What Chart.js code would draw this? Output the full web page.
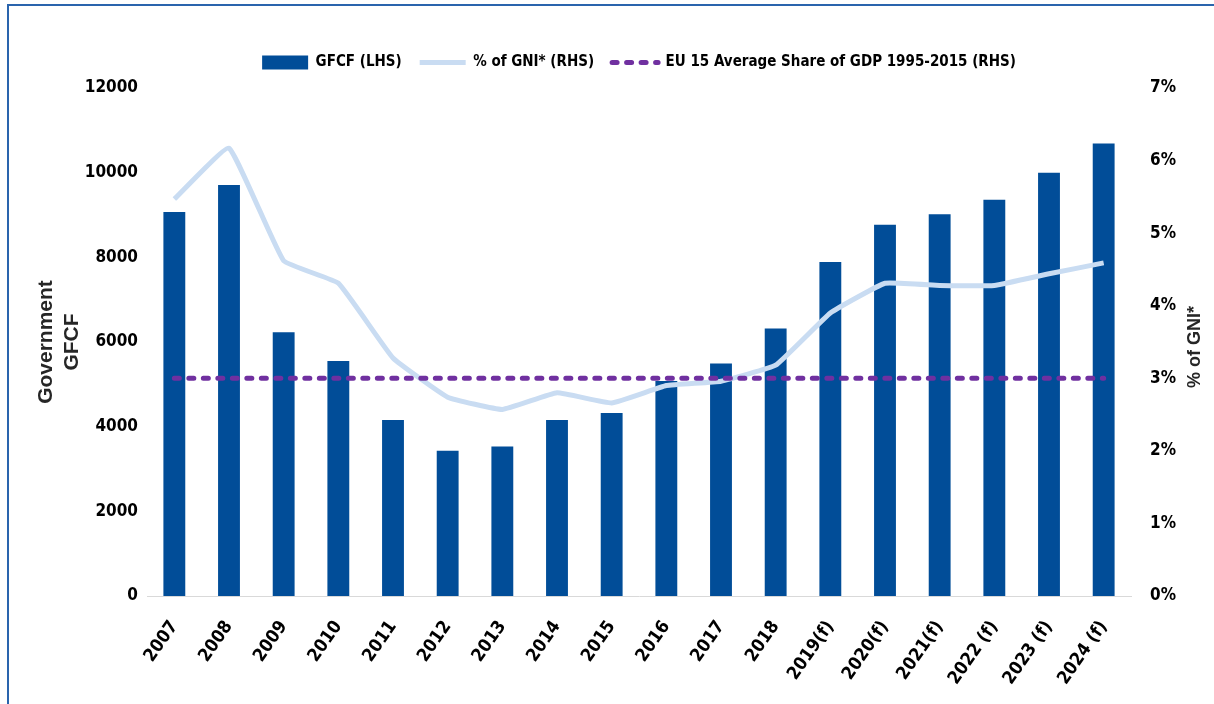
<!DOCTYPE html>
<html>
<head>
<meta charset="utf-8">
<script src="https://cdn.jsdelivr.net/npm/chart.js@4/dist/chart.umd.min.js"></script>
<style>
html, body { margin: 0; padding: 0; background: #fff; }
#wrap { position: relative; width: 1214px; height: 704px; overflow: hidden; }
#frame { position: absolute; left: 7px; top: 4px; width: 1300px; height: 800px;
         border-top: 2px solid #2a64ad; border-left: 2px solid #2a64ad; }
canvas { position: absolute; left: 0; top: 0; }
</style>
</head>
<body>
<div id="wrap">
  <div id="frame"></div>
  <canvas id="chart" width="1214" height="704"></canvas>
</div>
<script>
// Дані графіка
const years = ['2007', '2008', '2009', '2010', '2011', '2012', '2013', '2014', '2015',
               '2016', '2017', '2018', '2019(f)', '2020(f)', '2021(f)', '2022 (f)', '2023 (f)', '2024 (f)'];
const gfcf = [9070, 9710, 6230, 5550, 4160, 3430, 3530, 4160, 4320,
              5080, 5490, 6320, 7890, 8770, 9020, 9360, 10000, 10690];
const gniShare = [5.47, 6.17, 4.62, 4.31, 3.28, 2.74, 2.57, 2.80, 2.66,
                  2.90, 2.96, 3.18, 3.90, 4.31, 4.28, 4.28, 4.44, 4.59];
const eu15Avg = [3, 3, 3, 3, 3, 3, 3, 3, 3, 3, 3, 3, 3, 3, 3, 3, 3, 3];
const leftTicks = [0, 2000, 4000, 6000, 8000, 10000, 12000];
const rightTicks = [0, 1, 2, 3, 4, 5, 6, 7];

const BAR_COLOR = '#014d98';
const LINE_COLOR = '#c9dcf2';
const DASH_COLOR = '#7030a0';
const FONT = "'Liberation Sans Narrow', 'DejaVu Sans Condensed', 'Liberation Sans', sans-serif";

// Підписи осей (праву підпис треба читати знизу вгору)
const axisTitles = {
    id: 'axisTitles',
    afterDraw(chart) {
        const ctx = chart.ctx;
        const area = chart.chartArea;
        const midY = (area.top + area.bottom) / 2;
        ctx.save();
        ctx.fillStyle = '#262626';
        ctx.textAlign = 'center';
        ctx.textBaseline = 'middle';
        ctx.font = "bold 21px 'Liberation Sans', Arial, sans-serif";
        ctx.translate(46, midY);
        ctx.rotate(-Math.PI / 2);
        ctx.fillText('Government', 0, 0);
        ctx.fillText('GFCF', 0, 26);
        ctx.restore();

        ctx.save();
        ctx.fillStyle = '#262626';
        ctx.textAlign = 'center';
        ctx.textBaseline = 'middle';
        ctx.font = "bold 18px 'Liberation Sans', Arial, sans-serif";
        ctx.translate(1195, 347);
        ctx.rotate(-Math.PI / 2);
        ctx.fillText('% of GNI*', 0, 0);
        ctx.restore();
    }
};

// Фіксована висота легенди, щоб область графіка починалась з y=88
const legendHeight = {
    id: 'legendHeight',
    beforeLayout(chart) {
        const legend = chart.legend;
        if (legend && !legend._patched) {
            const origFit = legend.fit;
            legend.fit = function () {
                origFit.call(this);
                this.height = 51;
            };
            legend._patched = true;
        }
    }
};

const ctx = document.getElementById('chart').getContext('2d');

const chart = new Chart(ctx, {
    type: 'bar',
    data: {
        labels: years,
        datasets: [
            {
                type: 'bar',
                label: 'GFCF (LHS)',
                data: gfcf,
                backgroundColor: BAR_COLOR,
                borderWidth: 0,
                barPercentage: 0.4,
                categoryPercentage: 1,
                yAxisID: 'y',
                order: 2
            },
            {
                type: 'line',
                label: '% of GNI* (RHS)',
                data: gniShare,
                borderColor: LINE_COLOR,
                borderWidth: 5,
                pointRadius: 0,
                tension: 0.1,
                fill: false,
                yAxisID: 'y1',
                order: 1
            },
            {
                type: 'line',
                label: 'EU 15 Average Share of GDP 1995-2015 (RHS)',
                data: eu15Avg,
                borderColor: DASH_COLOR,
                borderWidth: 5,
                borderDash: [5, 9.5],
                borderCapStyle: 'round',
                pointRadius: 0,
                fill: false,
                yAxisID: 'y1',
                order: 0
            }
        ]
    },
    options: {
        responsive: false,
        animation: false,
        layout: { padding: { top: 37, left: 0, right: 0, bottom: 0 } },
        plugins: {
            tooltip: { enabled: false },
            legend: {
                position: 'top',
                fullSize: false,
                labels: {
                    color: '#000',
                    font: { family: FONT, size: 15, weight: 'bold' },
                    padding: 18,
                    usePointStyle: true,
                    pointStyleWidth: 46,
                    boxHeight: 14,
                    generateLabels(chart) {
                        return chart.data.datasets.map((ds, i) => {
                            const item = {
                                text: ds.label,
                                datasetIndex: i,
                                fontColor: '#000',
                                hidden: false
                            };
                            if (i === 0) {
                                item.pointStyle = 'rect';
                                item.fillStyle = BAR_COLOR;
                                item.strokeStyle = BAR_COLOR;
                                item.lineWidth = 0;
                            } else if (i === 1) {
                                item.pointStyle = 'line';
                                item.strokeStyle = LINE_COLOR;
                                item.lineWidth = 5;
                            } else {
                                item.pointStyle = 'line';
                                item.strokeStyle = DASH_COLOR;
                                item.lineWidth = 5;
                                item.lineDash = [5, 9.5];
                                item.lineCap = 'round';
                            }
                            return item;
                        });
                    }
                }
            }
        },
        scales: {
            x: {
                grid: { display: false },
                border: { display: true, color: '#d9d9d9', width: 1 },
                ticks: {
                    color: '#000',
                    font: { family: FONT, size: 18, weight: 'bold' },
                    autoSkip: false,
                    minRotation: 55,
                    maxRotation: 55,
                    padding: 13
                },
                afterFit(scale) { scale.height = 108; }
            },
            y: {
                position: 'left',
                min: 0,
                max: 12000,
                grid: { display: false },
                border: { display: false },
                afterBuildTicks(scale) { scale.ticks = leftTicks.map(v => ({ value: v })); },
                ticks: {
                    color: '#000',
                    font: { family: FONT, size: 17, weight: 'bold' },
                    padding: 1,
                    callback: v => String(v)
                },
                afterFit(scale) { scale.width = 147; }
            },
            y1: {
                position: 'right',
                min: 0,
                max: 7,
                grid: { display: false },
                border: { display: false },
                afterBuildTicks(scale) { scale.ticks = rightTicks.map(v => ({ value: v })); },
                ticks: {
                    color: '#000',
                    font: { family: FONT, size: 17, weight: 'bold' },
                    padding: 11,
                    callback: v => v + '%'
                },
                afterFit(scale) { scale.width = 83; }
            }
        }
    },
    plugins: [axisTitles, legendHeight]
});
</script>
</body>
</html>
